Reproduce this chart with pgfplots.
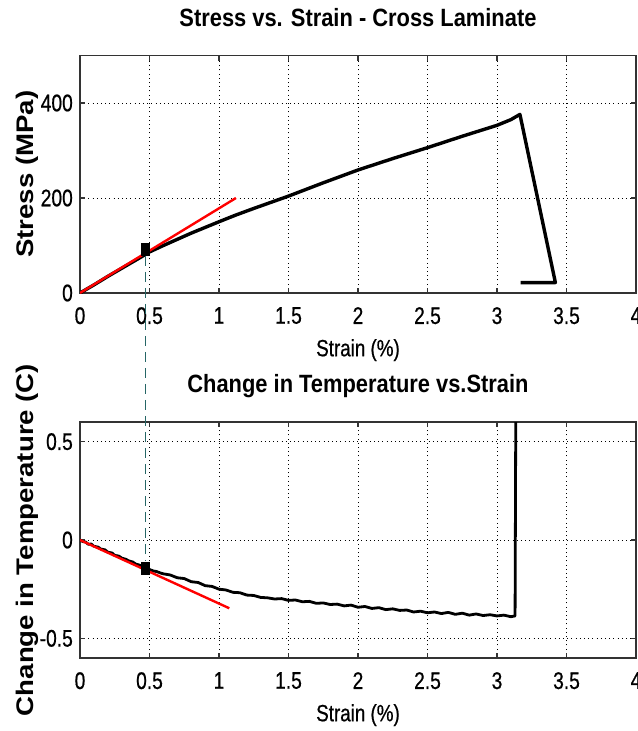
\documentclass[border=0pt]{standalone}
\usepackage{pgfplots}
\pgfplotsset{compat=1.18}
\usepackage{fontspec}
\setmainfont{Liberation Sans}
\newfontfamily\tickfont[FakeStretch=0.8,FakeBold=0.6]{Liberation Sans}
\newfontfamily\titlefont[FakeStretch=0.875]{Liberation Sans}
\newfontfamily\ylabfont[FakeStretch=1.15]{Liberation Sans}
\definecolor{mlred}{rgb}{1,0,0}
\definecolor{dashcol}{rgb}{0.15,0.4,0.4}

\pgfplotsset{
  mlaxis/.style={
    scale only axis,
    width=556bp,
    xmin=0, xmax=4,
    xtick={0,0.5,1,1.5,2,2.5,3,3.5,4},
    xticklabels={0,0.5,1,1.5,2,2.5,3,3.5,4},
    tick align=inside,
    xtick pos=both, ytick pos=both,
    major tick length=5bp,
    grid=major,
    major grid style={black, line width=0.9bp, dash pattern=on 1bp off 3.2bp},
    axis line style={black!80, line width=1.2bp},
    tick style={black!80, line width=1.2bp},
    ticklabel style={font=\tickfont\fontsize{24bp}{24bp}\selectfont, inner sep=0pt},
    xticklabel style={anchor=north, yshift=-14bp},
    yticklabel style={anchor=east, xshift=-7bp},
    xlabel={Strain (\%)},
    xlabel style={font=\tickfont\fontsize{23.5bp}{24bp}\selectfont, at={(axis description cs:0.5,0)}, anchor=north, inner sep=0pt, yshift=-46bp},
    ylabel style={font=\ylabfont\bfseries\fontsize{24bp}{24bp}\selectfont, at={(axis description cs:-0.0845,0.5)}, anchor=base, inner sep=0pt},
    title style={font=\titlefont\bfseries\fontsize{25bp}{25bp}\selectfont, at={(axis description cs:0.5,1)}, anchor=base, inner sep=0pt, yshift=23.5bp},
  }
}

\begin{document}
\begin{tikzpicture}
\begin{axis}[mlaxis,
  at={(80bp,-293bp)}, anchor=south west,
  height=237.5bp,
  ymin=0, ymax=500,
  ytick={0,200,400}, yticklabels={0,200,400},
  title={Stress vs. Strain - Cross Laminate},
  ylabel={Stress (MPa)},
]
\addplot[black, line width=3.4bp, line join=round] coordinates {
(0,0) (0.1,17) (0.2,35) (0.3,52) (0.4,69) (0.47,81) (0.5,86.5) (0.6,100) (0.7,113) (0.8,126) (0.9,138) (1.0,150) (1.12,164) (1.25,178) (1.5,204) (1.75,232) (2.0,259) (2.25,283) (2.5,306) (2.75,330) (3.0,353) (3.1,365) (3.165,376) (3.42,22) (3.17,22)
};
\addplot[mlred, line width=2.4bp] coordinates {(0,0) (1.122,200)};
\addplot[black, only marks, mark=square*, mark size=6bp, mark options={xscale=0.7}] coordinates {(0.471,93)};
\coordinate (A) at (axis cs:0.471,93);
\end{axis}

\begin{axis}[mlaxis,
  at={(80bp,-658bp)}, anchor=south west,
  height=236bp,
  ymin=-0.6, ymax=0.6,
  ytick={-0.5,0,0.5}, yticklabels={-0.5,0,0.5},
  title={Change in Temperature vs.Strain},
  ylabel={Change in Temperature (C)},
]
\addplot[black, line width=2.8bp, line join=round] coordinates {
(0.00,0.000) (0.02,-0.008) (0.04,-0.010) (0.06,-0.022) (0.08,-0.020) (0.10,-0.032) (0.13,-0.036) (0.15,-0.046) (0.18,-0.050) (0.20,-0.062) (0.23,-0.066) (0.25,-0.078) (0.28,-0.082) (0.30,-0.092) (0.33,-0.098) (0.35,-0.106) (0.38,-0.112) (0.40,-0.122) (0.43,-0.128) (0.45,-0.138) (0.47,-0.145) (0.50,-0.150) (0.53,-0.158) (0.55,-0.160) (0.58,-0.168) (0.60,-0.172) (0.65,-0.178) (0.70,-0.192) (0.75,-0.196) (0.80,-0.212) (0.85,-0.216) (0.90,-0.232) (0.95,-0.236) (1.00,-0.250) (1.05,-0.254) (1.10,-0.266) (1.15,-0.268) (1.20,-0.280) (1.25,-0.282) (1.30,-0.292) (1.35,-0.294) (1.40,-0.300) (1.45,-0.298) (1.50,-0.307) (1.55,-0.305) (1.60,-0.314) (1.65,-0.312) (1.70,-0.322) (1.75,-0.320) (1.80,-0.328) (1.85,-0.326) (1.90,-0.335) (1.95,-0.331) (2.00,-0.342) (2.05,-0.338) (2.10,-0.348) (2.15,-0.344) (2.20,-0.354) (2.25,-0.350) (2.30,-0.358) (2.35,-0.356) (2.40,-0.366) (2.45,-0.362) (2.50,-0.370) (2.55,-0.366) (2.60,-0.374) (2.65,-0.368) (2.70,-0.378) (2.75,-0.372) (2.80,-0.382) (2.85,-0.376) (2.90,-0.384) (2.95,-0.380) (3.00,-0.386) (3.05,-0.382) (3.10,-0.390) (3.13,-0.386) (3.135,0.62)
};
\addplot[mlred, line width=2.4bp] coordinates {(0,0) (1.074,-0.347)};
\addplot[black, only marks, mark=square*, mark size=6bp, mark options={xscale=0.7}] coordinates {(0.471,-0.144)};
\coordinate (B) at (axis cs:0.471,-0.144);
\end{axis}
\draw[dashcol, line width=1.3bp, dash pattern=on 10bp off 6bp] ([yshift=-7bp]A) -- ([yshift=7bp]B);
\pgfresetboundingbox
\path[use as bounding box] (0,0) rectangle (638bp,-731bp);
\end{tikzpicture}
\end{document}
